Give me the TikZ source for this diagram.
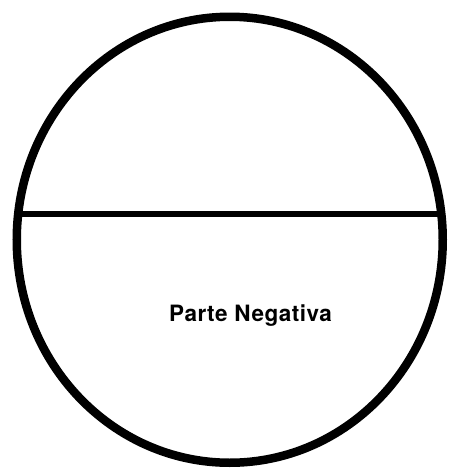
\documentclass[tikz,border=0pt]{standalone}
\usepackage{fontspec}
\setmainfont{TeX Gyre Heros}
\newfontfamily\labelfont[LetterSpace=2.2]{TeX Gyre Heros}
\usepackage{tikz}
\usetikzlibrary{positioning, calc}

\begin{document}
\begin{tikzpicture}[x=1pt, y=-1pt,
    rim/.style={line width=8.5pt},
    divider/.style={line width=6pt},
    label/.style={font=\labelfont\fontsize{22.5}{26}\selectfont\bfseries, inner sep=0pt}]
  \useasboundingbox (0,0) rectangle (449,469);
  % --- Outer circle ---
  \coordinate (centre) at (229.75,239.75);
  \draw[rim] (centre) ellipse [x radius=213, y radius=223];
  % --- Dividing line ---
  \coordinate (divL) at (17.5,214);
  \coordinate (divR) at (442,214);
  \draw[divider] (divL) -- (divR);
  % --- Lower half label ---
  \node[label, anchor=base] (neg) at (250.5,321.5) {Parte Negativa};
\end{tikzpicture}
\end{document}
